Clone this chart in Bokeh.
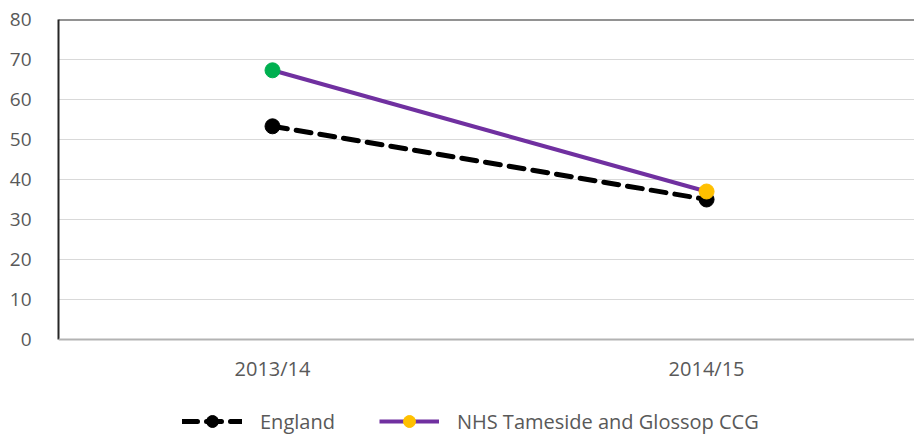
from bokeh.plotting import figure
from bokeh.models import Range1d, FixedTicker, Span, Legend, LegendItem, ColumnDataSource
from bokeh.core.properties import value
from bokeh.embed import file_html
from bokeh.resources import INLINE

categories = ["2013/14", "2014/15"]
england = [53.3, 35.0]
tameside = [67.3, 37.0]
tameside_marker_colors = ["#00b050", "#ffc000"]
y_ticks = [0, 10, 20, 30, 40, 50, 60, 70, 80]

FONT = "Open Sans"
TXT = "#595959"

xs = list(range(len(categories)))

p = figure(frame_width=856, frame_height=420, output_backend="svg", toolbar_location=None,
           x_range=Range1d(-0.493, 1.479), y_range=Range1d(-25, 80),
           x_axis_location=None,
           min_border_left=58, min_border_top=19, min_border_right=0, min_border_bottom=0)
p.outline_line_color = None
p.background_fill_color = "white"
p.border_fill_color = "white"

# y axis (only spans 0..80)
p.yaxis.bounds = (0, 80)
p.yaxis.ticker = FixedTicker(ticks=y_ticks)
p.yaxis.axis_line_color = "#262626"
p.yaxis.axis_line_width = 2
p.yaxis.major_tick_line_color = None
p.yaxis.minor_tick_line_color = None
p.yaxis.major_label_text_font = FONT
p.yaxis.major_label_text_font_size = "19px"
p.yaxis.major_label_text_color = TXT
p.yaxis.major_label_standoff = 21

p.xgrid.grid_line_color = None
p.ygrid.ticker = FixedTicker(ticks=y_ticks[1:-1])
p.ygrid.grid_line_color = "#d9d9d9"
p.ygrid.grid_line_width = 1

# top border and category baseline
p.add_layout(Span(location=80, dimension="width", line_color="#262626", line_width=2))
p.add_layout(Span(location=0, dimension="width", line_color="#b3b3b3", line_width=2))

# category labels
p.text(x=xs, y=[0] * len(xs), text=categories, text_align="center", text_baseline="middle",
       y_offset=29, text_font=value(FONT), text_font_size="20px", text_color=TXT)

eng_src = ColumnDataSource(dict(x=xs, y=england))
tam_src = ColumnDataSource(dict(x=xs, y=tameside, c=tameside_marker_colors))

eng_line = p.line("x", "y", source=eng_src, line_color="black", line_width=5,
                  line_dash="15 9", line_cap="round")
eng_pts = p.scatter("x", "y", source=eng_src, size=15, fill_color="black", line_color="black")
tam_line = p.line("x", "y", source=tam_src, line_color="#7030a0", line_width=4)
tam_pts = p.scatter("x", "y", source=tam_src, size=15, fill_color="c", line_color="c")

legend = Legend(items=[
    LegendItem(label="England", renderers=[eng_line, eng_pts]),
    LegendItem(label="NHS Tameside and Glossop CCG", renderers=[tam_line, tam_pts], index=1),
], orientation="horizontal", location=(124, 3))
legend.label_text_font = FONT
legend.label_text_font_size = "20px"
legend.label_text_color = TXT
legend.glyph_width = 60
legend.glyph_height = 30
legend.label_standoff = 18
legend.spacing = 44
legend.border_line_color = None
legend.background_fill_alpha = 0
legend.padding = 0
legend.margin = 0
p.add_layout(legend)

open("out.html", "w").write(file_html(p, INLINE))
